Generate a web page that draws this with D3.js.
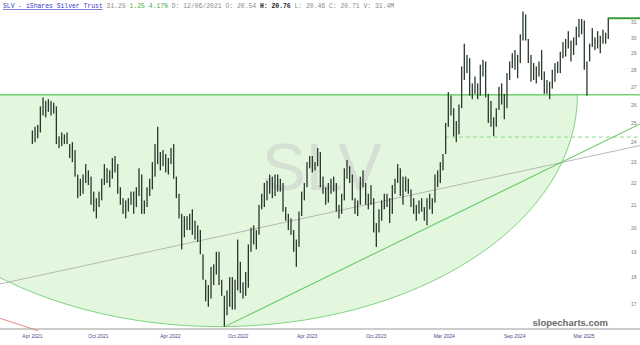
<html>
<head>
<meta charset="utf-8">
<title>SLV - iShares Silver Trust</title>
<style>
  body {margin: 0; background: #fff;}
  svg {display: block;}
  .tick text {font-family: "Liberation Sans", Arial, sans-serif;}
</style>
</head>
<body>
<svg></svg>
<script src="https://d3js.org/d3.v7.min.js"></script>
<script>
const width = 640, height = 345;

// weekly bars, first week starts Mon 12 Apr 2021
const firstWeek = "2021-04-12";
const weekHigh = [
  24.6, 24.8, 24.9, 25.9, 26.4, 26.2, 26.3, 26.2, 26.1, 25.9,
  24.3, 24.5, 24.4, 24.5, 23.9, 24.0, 23.6, 22.4, 22.2, 22.4,
  22.9, 22.6, 22.3, 21.6, 21.3, 21.6, 22.2, 22.9, 22.7, 22.6,
  23.2, 23.3, 22.9, 21.8, 21.3, 21.2, 21.3, 21.6, 21.6, 21.8,
  22.7, 22.4, 21.2, 21.8, 22.2, 23.0, 23.9, 24.8, 23.5, 23.6,
  23.4, 23.2, 23.7, 23.9, 22.3, 21.5, 20.6, 20.5, 20.5, 20.6,
  20.8, 20.3, 20.1, 19.9, 18.9, 17.9, 17.7, 18.4, 18.5, 19.0,
  19.0, 17.9, 17.3, 17.5, 18.0, 18.0, 17.9, 19.5, 18.6, 17.8,
  18.2, 19.3, 20.0, 20.1, 19.9, 21.0, 21.5, 22.0, 22.1, 22.4,
  22.3, 22.4, 22.4, 22.2, 22.0, 20.9, 20.6, 20.4, 19.9, 19.5,
  20.7, 21.6, 22.0, 23.0, 23.3, 23.3, 23.0, 23.7, 23.5, 22.3,
  21.8, 22.0, 22.2, 22.3, 22.0, 21.0, 21.5, 22.7, 23.1, 22.8,
  22.4, 21.3, 21.2, 22.3, 22.6, 22.0, 21.5, 21.9, 21.3, 20.2,
  20.8, 21.2, 21.5, 21.5, 21.3, 21.9, 22.2, 22.9, 22.7, 22.3,
  22.3, 22.2, 21.7, 21.3, 21.0, 21.2, 21.3, 20.9, 21.3, 21.5,
  21.3, 22.4, 22.6, 23.0, 23.4, 25.0, 26.7, 26.5, 25.8, 25.1,
  26.0, 28.2, 29.6, 28.9, 28.7, 27.2, 27.6, 27.2, 28.3, 28.6,
  28.5, 26.6, 26.2, 25.3, 25.8, 27.0, 27.2, 26.6, 27.8, 28.5,
  29.0, 29.2, 28.9, 30.2, 31.7, 31.5, 29.9, 28.9, 28.4, 28.2,
  28.5, 29.2, 27.9, 27.4, 27.3, 28.0, 28.4, 28.5, 29.1, 29.7,
  29.9, 30.4, 29.8, 30.0, 30.7, 31.2, 31.2, 31.1, 28.5, 29.6,
  30.6, 30.0, 30.4, 30.1, 30.5, 30.3, 31.3
];
const weekLow = [
  23.9, 24.0, 24.2, 24.5, 25.4, 25.3, 25.6, 25.4, 25.5, 23.9,
  23.7, 23.8, 23.9, 23.9, 23.2, 23.0, 22.3, 21.3, 21.4, 21.5,
  22.0, 21.9, 21.0, 20.7, 20.4, 20.9, 21.2, 21.9, 22.0, 21.8,
  22.2, 22.5, 21.5, 21.0, 20.6, 20.4, 20.7, 21.0, 20.6, 20.9,
  21.4, 20.6, 20.6, 20.9, 21.4, 21.7, 22.3, 22.9, 22.6, 22.8,
  22.5, 22.4, 22.9, 22.2, 21.3, 20.4, 19.1, 19.6, 19.9, 19.9,
  19.7, 19.5, 19.4, 18.9, 17.9, 17.1, 16.9, 17.2, 17.7, 18.1,
  17.7, 17.3, 16.2, 16.6, 16.9, 16.8, 16.8, 17.5, 17.4, 17.2,
  17.3, 17.6, 19.0, 19.3, 19.1, 19.7, 20.8, 20.9, 21.2, 21.5,
  21.3, 21.4, 21.6, 21.6, 20.7, 20.3, 19.9, 19.7, 19.0, 18.4,
  19.2, 20.5, 21.2, 21.8, 22.7, 22.5, 22.6, 22.8, 21.8, 21.5,
  21.0, 21.1, 21.5, 21.6, 20.7, 20.4, 20.6, 21.2, 22.2, 22.0,
  21.2, 20.6, 20.5, 21.0, 21.8, 21.0, 20.8, 21.0, 19.8, 19.2,
  19.8, 20.3, 20.8, 20.9, 20.2, 20.6, 21.5, 22.0, 21.4, 21.0,
  21.6, 21.5, 20.9, 20.6, 20.3, 20.6, 20.7, 20.3, 20.1, 20.8,
  20.6, 21.1, 21.8, 22.0, 22.6, 23.4, 24.8, 25.4, 24.3, 24.0,
  24.4, 25.8, 27.4, 27.8, 26.5, 26.3, 26.6, 26.3, 26.5, 27.6,
  26.4, 25.0, 24.8, 24.3, 24.8, 25.7, 26.0, 25.2, 25.8, 27.4,
  28.1, 28.0, 27.5, 28.4, 29.8, 29.8, 28.4, 27.3, 27.4, 27.2,
  27.6, 27.4, 26.6, 26.6, 26.3, 26.9, 27.3, 27.8, 27.8, 28.7,
  28.8, 29.3, 28.5, 28.9, 29.5, 30.0, 30.2, 28.0, 26.5, 28.5,
  29.4, 29.2, 29.3, 29.0, 29.6, 29.6, 29.9
];

const yTicks = [17, 18, 19, 20, 21, 22, 23, 24, 25, 26, 27, 28, 29, 30, 31];
const xTickDates = ["2021-04-13", "2021-10-03", "2022-04-10", "2022-10-05", "2023-04-04",
                    "2023-10-02", "2024-03-29", "2024-09-30", "2025-03-31"];

// drawn annotations (date, price)
const resistancePrice = 26.55;
const arcCenterDate = "2022-08-19", arcBottomPrice = 16.2, arcRightDate = "2025-03-15";
const dashedStart = "2024-04-01", dashedPrice = 24.26;
const greenTrend = [["2022-09-01", 16.2], ["2025-04-08", 23.6]];
const grayTrend = [["2022-03-15", 19.1], ["2025-07-03", 23.6]];
const redTrend = [["2021-01-19", 16.49], ["2021-04-29", 16.06]];
const lastPrice = 31.25;

const parse = d3.timeParse("%Y-%m-%d");

const svg = d3.select("svg").attr("width", width).attr("height", height);

const x = d3.scaleTime()
  .domain([parse("2021-01-19"), parse("2025-07-10")])
  .range([0, 622]);

const y = d3.scaleLog()
  .domain([17, 31])
  .range([304, 22]);

const axisY = 329;

const bars = weekHigh.map((h, i) => ({
  date: d3.timeDay.offset(parse(firstWeek), i * 7 + 2),
  high: h,
  low: weekLow[i]
}));

// green half-ellipse
const cx = x(parse(arcCenterDate)), cy = y(resistancePrice);
const rx = x(parse(arcRightDate)) - cx, ry = y(arcBottomPrice) - cy;
svg.append("path")
  .attr("d", `M${cx - rx},${cy} A${rx},${ry} 0 0 0 ${cx + rx},${cy} Z`)
  .attr("fill", "#e3f7df")
  .attr("stroke", "#7fd47f")
  .attr("stroke-width", 1);

// watermark
svg.append("text")
  .attr("x", 322).attr("y", 190)
  .attr("text-anchor", "middle")
  .style("font-family", "Liberation Sans, Arial, sans-serif")
  .style("font-size", "66px")
  .attr("fill", "#c8c8c8")
  .attr("opacity", 0.5)
  .text("SLV");

// resistance line across
svg.append("line")
  .attr("x1", 0).attr("x2", width)
  .attr("y1", y(resistancePrice)).attr("y2", y(resistancePrice))
  .attr("stroke", "#77d477").attr("stroke-width", 1.5);

// dashed support
svg.append("line")
  .attr("x1", x(parse(dashedStart))).attr("x2", width)
  .attr("y1", y(dashedPrice)).attr("y2", y(dashedPrice))
  .attr("stroke", "#8fd88f").attr("stroke-width", 1)
  .attr("stroke-dasharray", "4,3");

// two-point lines, extended to the right edge (or both edges)
function trend(pts, color, w, fromLeft) {
  const x1 = x(parse(pts[0][0])), y1 = y(pts[0][1]);
  const x2 = x(parse(pts[1][0])), y2 = y(pts[1][1]);
  const m = (y2 - y1) / (x2 - x1);
  const xs = fromLeft ? 0 : x1;
  return svg.append("line")
    .attr("x1", xs).attr("y1", y1 + m * (xs - x1))
    .attr("x2", width).attr("y2", y1 + m * (width - x1))
    .attr("stroke", color).attr("stroke-width", w);
}
trend(grayTrend, "#a8a8a8", 0.8, true);
trend(greenTrend, "#6cc96c", 1.1, false);

svg.append("line")
  .attr("x1", x(parse(redTrend[0][0]))).attr("y1", y(redTrend[0][1]))
  .attr("x2", x(parse(redTrend[1][0]))).attr("y2", y(redTrend[1][1]))
  .attr("stroke", "#e06666").attr("stroke-width", 0.8);

// price bars
svg.append("g")
  .selectAll("rect")
  .data(bars)
  .join("rect")
  .attr("x", d => x(d.date) - 0.65)
  .attr("width", 1.3)
  .attr("y", d => y(d.high))
  .attr("height", d => y(d.low) - y(d.high))
  .attr("fill", "#2a392d");

// last price marker
const last = bars[bars.length - 1];
svg.append("line")
  .attr("x1", x(last.date)).attr("x2", width)
  .attr("y1", y(lastPrice)).attr("y2", y(lastPrice))
  .attr("stroke", "#3c9a3c").attr("stroke-width", 2);

// bottom axis
svg.append("line")
  .attr("x1", 0).attr("x2", width)
  .attr("y1", axisY).attr("y2", axisY)
  .attr("stroke", "#9a9a9a").attr("stroke-width", 1);

const xAxis = svg.append("g")
  .attr("transform", `translate(0,${axisY + 2})`)
  .call(d3.axisBottom(x)
    .tickValues(xTickDates.map(parse))
    .tickFormat(d3.timeFormat("%b %Y"))
    .tickSize(0));
xAxis.select(".domain").remove();
xAxis.selectAll("text").attr("fill", "#4a4a8c").style("font-size", "5px");

const yAxis = svg.append("g")
  .attr("transform", "translate(628,0)")
  .call(d3.axisRight(y)
    .tickValues(yTicks)
    .tickFormat(d3.format("d"))
    .tickSize(0));
yAxis.select(".domain").remove();
yAxis.selectAll("text").attr("fill", "#777").style("font-size", "5px").attr("dx", 0);

// slopecharts watermark
svg.append("text")
  .attr("x", 608).attr("y", 326)
  .attr("text-anchor", "end")
  .style("font-family", "Liberation Sans, Arial, sans-serif")
  .style("font-size", "9.5px")
  .style("font-weight", "bold")
  .attr("fill", "#6a6a6a")
  .text("slopecharts.com");

// header
const header = svg.append("text")
  .attr("x", 3).attr("y", 8)
  .style("font-family", "Liberation Mono, monospace")
  .style("font-size", "6.4px")
  .attr("fill", "#8a8a8a");
header.append("tspan").attr("fill", "#3a3acc").style("text-decoration", "underline")
  .text("SLV - iShares Silver Trust");
header.append("tspan").text(" 31.25");
header.append("tspan").attr("fill", "#3fae3f").text(" 1.25 4.17%");
header.append("tspan").text(" D: 12/06/2021 O: 20.54 ");
header.append("tspan").attr("fill", "#222").style("font-weight", "bold").text("H: 20.76");
header.append("tspan").text(" L: 20.46 C: 20.71 V: 31.4M");
</script>
</body>
</html>
